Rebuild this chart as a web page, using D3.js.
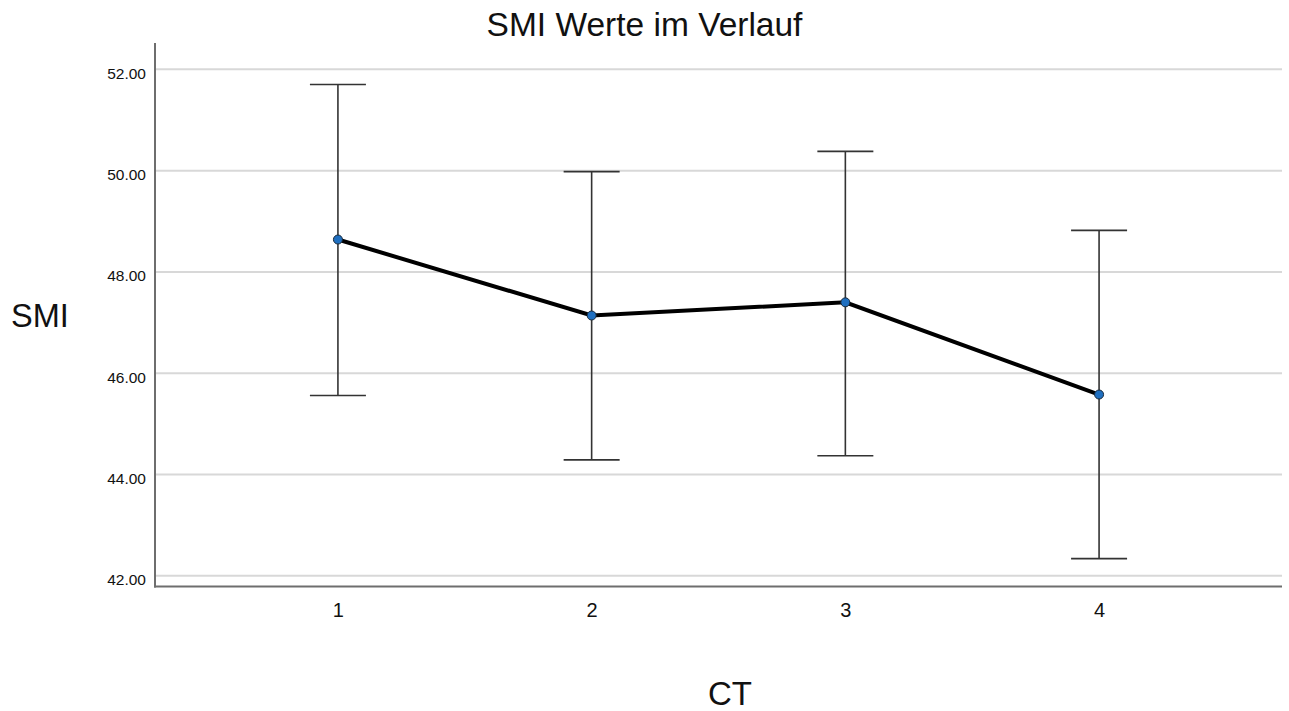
<!DOCTYPE html>
<html>
<head>
<meta charset="utf-8">
<script src="https://cdn.jsdelivr.net/npm/d3@7"></script>
<style>
  html, body { margin: 0; padding: 0; background: #fff; }
  svg text { font-family: "Liberation Sans", Arial, Helvetica, sans-serif; fill: #111; }
</style>
</head>
<body>
<svg id="chart" width="1289" height="711"></svg>
<script>
const categories = ["1", "2", "3", "4"];
const means = [48.64, 47.14, 47.40, 45.58];
const upper = [51.70, 49.98, 50.38, 48.82];
const lower = [45.56, 44.29, 44.37, 42.34];
const yTicks = [42, 44, 46, 48, 50, 52];

(function () {
const svg = d3.select("#chart");
const mLeft = 155, mRight = 1282, mTop = 43, mBottom = 586.5;

const x = d3.scalePoint().domain(categories).range([mLeft, mRight]).padding(0.721);
const y = d3.scaleLinear().domain([41.79, 52.52]).range([mBottom, mTop]);

// gridlines
svg.append("g").selectAll("line").data(yTicks).join("line")
  .attr("x1", mLeft).attr("x2", mRight)
  .attr("y1", d => y(d)).attr("y2", d => y(d))
  .attr("stroke", "#d8d8d8").attr("stroke-width", 2);

// y axis
const yAxis = d3.axisLeft(y).tickValues(yTicks).tickFormat(d3.format(".2f")).tickSize(0).tickPadding(9);
const gy = svg.append("g").attr("transform", `translate(${mLeft},0)`).call(yAxis);
gy.select(".domain").remove();
gy.selectAll("text").attr("font-size", 15.5).attr("dy", "0.58em").attr("fill", "#222");

// x axis
const xAxis = d3.axisBottom(x).tickSize(0).tickPadding(16);
const gx = svg.append("g").attr("transform", `translate(0,${mBottom})`).call(xAxis);
gx.select(".domain").remove();
gx.selectAll("text").attr("font-size", 20).attr("fill", "#111");

// axis lines
svg.append("line").attr("x1", mLeft).attr("x2", mLeft).attr("y1", mTop).attr("y2", mBottom + 1)
  .attr("stroke", "#6e6e6e").attr("stroke-width", 2);
svg.append("line").attr("x1", mLeft - 1).attr("x2", mRight).attr("y1", mBottom).attr("y2", mBottom)
  .attr("stroke", "#6e6e6e").attr("stroke-width", 2);

const data = categories.map((c, i) => ({c, m: means[i], hi: upper[i], lo: lower[i]}));

// error bars
const capHalf = 28;
const eb = svg.append("g").attr("stroke", "#333").attr("stroke-width", 1.6);
eb.selectAll(".v").data(data).join("line").attr("class", "v")
  .attr("x1", d => x(d.c)).attr("x2", d => x(d.c))
  .attr("y1", d => y(d.hi)).attr("y2", d => y(d.lo));
eb.selectAll(".t").data(data).join("line").attr("class", "t")
  .attr("x1", d => x(d.c) - capHalf).attr("x2", d => x(d.c) + capHalf)
  .attr("y1", d => y(d.hi)).attr("y2", d => y(d.hi));
eb.selectAll(".b").data(data).join("line").attr("class", "b")
  .attr("x1", d => x(d.c) - capHalf).attr("x2", d => x(d.c) + capHalf)
  .attr("y1", d => y(d.lo)).attr("y2", d => y(d.lo));

// mean line
svg.append("path").datum(data)
  .attr("d", d3.line().x(d => x(d.c)).y(d => y(d.m)))
  .attr("fill", "none").attr("stroke", "#000").attr("stroke-width", 4);

// markers
svg.append("g").selectAll("circle").data(data).join("circle")
  .attr("cx", d => x(d.c)).attr("cy", d => y(d.m)).attr("r", 4.5)
  .attr("fill", "#1f6fc0").attr("stroke", "#1a2a3a").attr("stroke-width", 1);

// titles
svg.append("text").attr("x", 644.5).attr("y", 36).attr("text-anchor", "middle")
  .attr("font-size", 33.5).text("SMI Werte im Verlauf");
svg.append("text").attr("x", 11).attr("y", 327).attr("font-size", 32.5).text("SMI");
svg.append("text").attr("x", 730).attr("y", 705).attr("text-anchor", "middle")
  .attr("font-size", 33).text("CT");
})();
</script>
</body>
</html>
